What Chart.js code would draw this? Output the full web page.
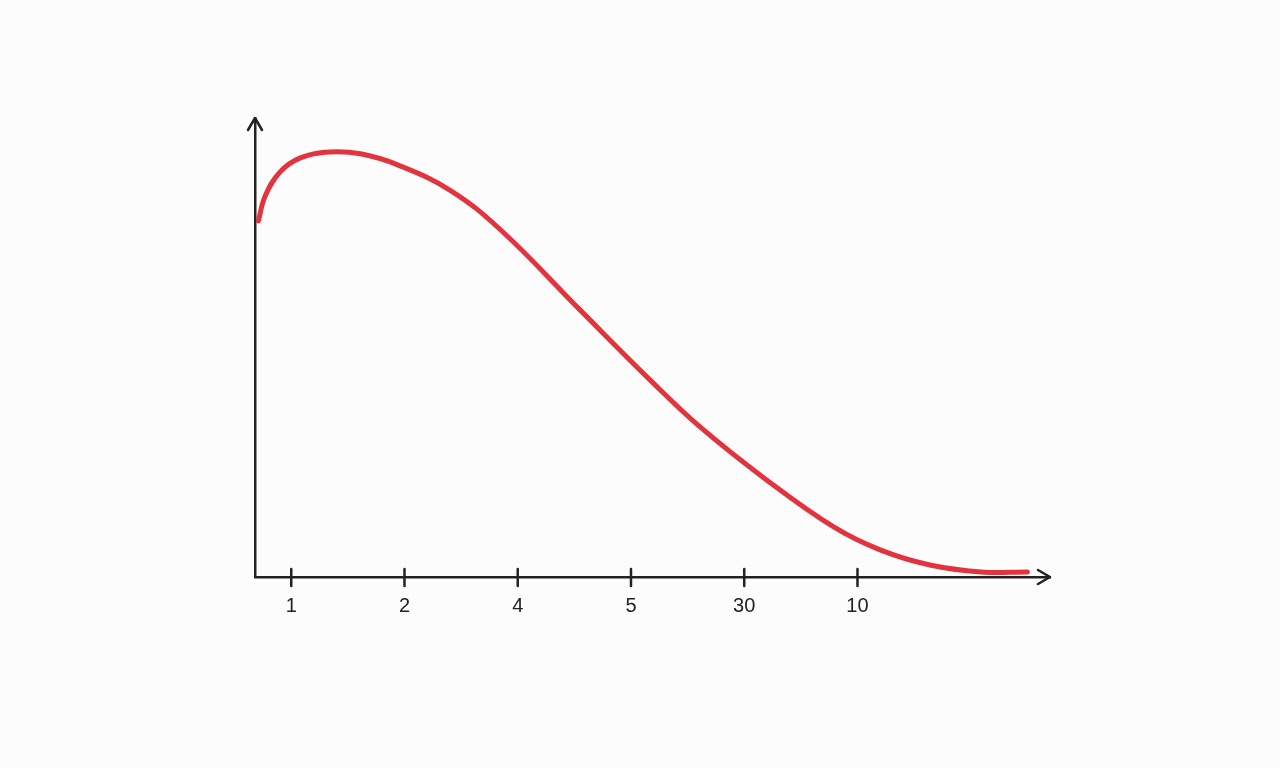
<!DOCTYPE html>
<html>
<head>
<meta charset="utf-8">
<script src="https://cdn.jsdelivr.net/npm/chart.js@4"></script>
<style>
    html, body { margin: 0; padding: 0; background: #fcfcfc; }
    #wrap { width: 1280px; height: 768px; }
</style>
</head>
<body>
<div id="wrap"><canvas id="chartCurve"></canvas></div>
<script>
    // tick slots along the x axis and the labels written under them
    const tickPositions = [1, 2, 3, 4, 5, 6];
    const tickLabels = ['1', '2', '4', '5', '30', '10'];

    // points (x in tick slots, y in % of axis height)
    const curveX = [0.71, 0.77, 0.90, 1.08, 1.34, 1.61, 1.94, 2.40, 2.85, 3.55, 4.17, 4.61, 5.20, 5.79, 6.20, 6.64, 7.09, 7.50];
    const curveY = [77.6, 83.0, 88.2, 91.3, 92.6, 92.2, 89.8, 84.3, 75.6, 58.2, 42.9, 32.7, 21.1, 10.9, 5.9, 2.6, 1.1, 1.1];

    const inkColor = '#222222';

    const axisArrows = {
        id: 'axisArrows',
        afterDraw(chart) {
            const ctx = chart.ctx;
            const a = chart.chartArea;
            const xs = chart.scales.x;
            ctx.save();
            ctx.strokeStyle = inkColor;
            ctx.lineWidth = 2.5;
            ctx.lineCap = 'round';
            ctx.lineJoin = 'round';
            // arrow on y axis
            ctx.beginPath();
            ctx.moveTo(a.left - 7, a.top + 12);
            ctx.lineTo(a.left, a.top);
            ctx.lineTo(a.left + 7, a.top + 12);
            ctx.stroke();
            // arrow on x axis
            ctx.beginPath();
            ctx.moveTo(a.right - 12, a.bottom - 7);
            ctx.lineTo(a.right, a.bottom);
            ctx.lineTo(a.right - 12, a.bottom + 7);
            ctx.stroke();
            // tick marks crossing the x axis
            xs.ticks.forEach(t => {
                const px = xs.getPixelForValue(t.value);
                ctx.beginPath();
                ctx.moveTo(px, a.bottom - 8);
                ctx.lineTo(px, a.bottom + 9);
                ctx.stroke();
            });
            ctx.restore();
        }
    };

    new Chart(document.getElementById('chartCurve'), {
        type: 'line',
        data: {
            datasets: [{
                data: curveX.map((x, i) => ({ x: x, y: curveY[i] })),
                borderColor: '#e2343f',
                borderWidth: 5,
                borderCapStyle: 'round',
                pointRadius: 0,
                tension: 0.4,
                fill: false
            }]
        },
        options: {
            responsive: true,
            maintainAspectRatio: false,
            animation: false,
            layout: {
                padding: { left: 247, right: 230, top: 118, bottom: 141 }
            },
            plugins: {
                legend: { display: false },
                tooltip: { enabled: false }
            },
            scales: {
                x: {
                    type: 'linear',
                    min: 0.68,
                    max: 7.70,
                    afterBuildTicks: scale => {
                        scale.ticks = tickPositions.map(v => ({ value: v }));
                    },
                    grid: { display: false },
                    border: { display: true, color: inkColor, width: 2.5 },
                    ticks: {
                        padding: 9,
                        color: inkColor,
                        font: { family: "'Liberation Sans', Arial, sans-serif", size: 20 },
                        callback: value => tickLabels[tickPositions.indexOf(value)]
                    }
                },
                y: {
                    min: 0,
                    max: 100,
                    grid: { display: false },
                    border: { display: true, color: inkColor, width: 2.5 },
                    ticks: { display: false }
                }
            }
        },
        plugins: [axisArrows]
    });
</script>
</body>
</html>
